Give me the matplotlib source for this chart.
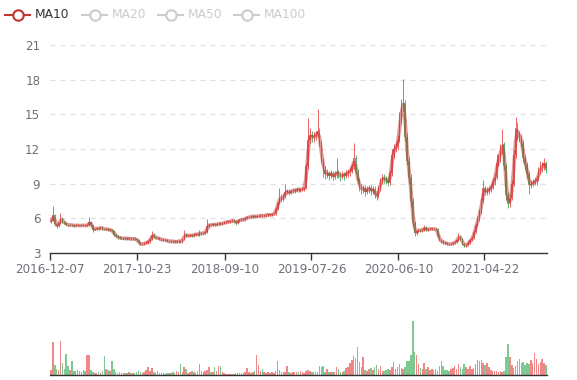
import numpy as np
import pandas as pd
import matplotlib
matplotlib.use('Agg')
import matplotlib.pyplot as plt
from matplotlib.lines import Line2D

# ---------------- data (weekly candles) ----------------
start_date = '2016-12-07'
tick_labels = ['2016-12-07', '2017-10-23', '2018-09-10', '2019-07-26', '2020-06-10', '2021-04-22']
legend_names = ['MA10', 'MA20', 'MA50', 'MA100']
y_ticks = [3, 6, 9, 12, 15, 18, 21]

opens = [
5.7, 5.8, 6.3, 5.5, 5.3, 5.6, 6.0, 5.7, 5.6, 5.45,
5.4, 5.45, 5.4, 5.35, 5.4, 5.4, 5.35, 5.4, 5.4, 5.35,
5.4, 5.7, 5.4, 5.0, 5.1, 5.15, 5.1, 5.2, 5.1, 5.05,
5.1, 5.0, 5.0, 4.9, 4.6, 4.45, 4.35, 4.3, 4.3, 4.25,
4.3, 4.25, 4.25, 4.2, 4.25, 4.2, 4.1, 3.85, 3.75, 3.8,
3.85, 3.9, 4.0, 4.2, 4.6, 4.4, 4.3, 4.3, 4.2, 4.15,
4.15, 4.1, 4.05, 4.0, 4.05, 4.0, 3.95, 4.0, 4.05, 4.0,
4.2, 4.6, 4.5, 4.5, 4.55, 4.5, 4.6, 4.65, 4.6, 4.7,
4.7, 4.75, 4.8, 5.3, 5.45, 5.4, 5.5, 5.45, 5.5, 5.55,
5.5, 5.6, 5.65, 5.7, 5.7, 5.75, 5.8, 5.75, 5.6, 5.8,
5.85, 5.9, 5.9, 6.0, 6.1, 6.1, 6.15, 6.2, 6.15, 6.2,
6.2, 6.25, 6.2, 6.25, 6.3, 6.3, 6.3, 6.35, 6.4, 6.8,
7.3, 7.9, 7.6, 7.9, 8.3, 8.3, 8.2, 8.35, 8.4, 8.4,
8.5, 8.45, 8.5, 8.55, 8.6, 10.5, 12.8, 13.2, 13.0, 13.1,
13.2, 13.6, 12.5, 11.0, 10.2, 9.8, 9.9, 9.7, 9.9, 9.6,
9.8, 10.0, 9.8, 9.6, 9.8, 9.7, 9.9, 10.0, 10.1, 10.5,
11.2, 10.0, 9.2, 8.7, 8.5, 8.6, 8.3, 8.5, 8.6, 8.4,
8.5, 8.1, 7.9, 8.6, 9.2, 9.5, 9.4, 9.3, 9.1, 9.9,
11.5, 12.0, 12.2, 12.8, 14.5, 15.7, 16.0, 13.0, 11.0, 9.5,
7.5, 5.6, 4.7, 4.9, 5.0, 4.95, 5.0, 5.2, 5.0, 5.05,
5.1, 5.1, 5.05, 5.1, 4.5, 4.1, 4.0, 3.9, 3.85, 3.8,
3.75, 3.8, 3.85, 3.95, 4.1, 4.5, 4.2, 3.8, 3.65, 3.7,
3.9, 4.1, 4.3, 4.8, 5.4, 6.0, 6.6, 7.5, 8.6, 8.3,
8.4, 8.5, 8.7, 9.2, 9.6, 10.8, 11.2, 12.0, 12.4, 10.5,
8.0, 7.2, 7.8, 9.0, 11.5, 13.8, 13.3, 13.0, 12.5, 11.2,
10.6, 9.8, 8.9, 9.0, 9.1, 9.2, 9.4, 10.0, 10.4, 10.5,
10.8]

closes = [
5.8, 6.3, 5.5, 5.3, 5.6, 6.0, 5.7, 5.6, 5.45, 5.4,
5.45, 5.4, 5.35, 5.4, 5.4, 5.35, 5.4, 5.4, 5.35, 5.4,
5.7, 5.4, 5.0, 5.1, 5.15, 5.1, 5.2, 5.1, 5.05, 5.1,
5.0, 5.0, 4.9, 4.6, 4.45, 4.35, 4.3, 4.3, 4.25, 4.3,
4.25, 4.25, 4.2, 4.25, 4.2, 4.1, 3.85, 3.75, 3.8, 3.85,
3.9, 4.0, 4.2, 4.6, 4.4, 4.3, 4.3, 4.2, 4.15, 4.15,
4.1, 4.05, 4.0, 4.05, 4.0, 3.95, 4.0, 4.05, 4.0, 4.2,
4.6, 4.5, 4.5, 4.55, 4.5, 4.6, 4.65, 4.6, 4.7, 4.7,
4.75, 4.8, 5.3, 5.45, 5.4, 5.5, 5.45, 5.5, 5.55, 5.5,
5.6, 5.65, 5.7, 5.7, 5.75, 5.8, 5.75, 5.6, 5.8, 5.85,
5.9, 5.9, 6.0, 6.1, 6.1, 6.15, 6.2, 6.15, 6.2, 6.2,
6.25, 6.2, 6.25, 6.3, 6.3, 6.3, 6.35, 6.4, 6.8, 7.3,
7.9, 7.6, 7.9, 8.3, 8.3, 8.2, 8.35, 8.4, 8.4, 8.5,
8.45, 8.5, 8.55, 8.6, 10.5, 12.8, 13.2, 13.0, 13.1, 13.2,
13.6, 12.5, 11.0, 10.2, 9.8, 9.9, 9.7, 9.9, 9.6, 9.8,
10.0, 9.8, 9.6, 9.8, 9.7, 9.9, 10.0, 10.1, 10.5, 11.2,
10.0, 9.2, 8.7, 8.5, 8.6, 8.3, 8.5, 8.6, 8.4, 8.5,
8.1, 7.9, 8.6, 9.2, 9.5, 9.4, 9.3, 9.1, 9.9, 11.5,
12.0, 12.2, 12.8, 14.5, 15.7, 16.0, 13.0, 11.0, 9.5, 7.5,
5.6, 4.7, 4.9, 5.0, 4.95, 5.0, 5.2, 5.0, 5.05, 5.1,
5.1, 5.05, 5.1, 4.5, 4.1, 4.0, 3.9, 3.85, 3.8, 3.75,
3.8, 3.85, 3.95, 4.1, 4.5, 4.2, 3.8, 3.65, 3.7, 3.9,
4.1, 4.3, 4.8, 5.4, 6.0, 6.6, 7.5, 8.6, 8.3, 8.4,
8.5, 8.7, 9.2, 9.6, 10.8, 11.2, 12.0, 12.4, 10.5, 8.0,
7.2, 7.8, 9.0, 11.5, 13.8, 13.3, 13.0, 12.5, 11.2, 10.6,
9.8, 8.9, 9.0, 9.1, 9.2, 9.4, 10.0, 10.4, 10.5, 10.8,
10.2]

highs = [
5.95, 7.1, 6.4, 5.6, 5.7, 6.5, 6.1, 5.8, 5.7, 5.55,
5.55, 5.5, 5.45, 5.5, 5.5, 5.45, 5.5, 5.55, 5.45, 5.5,
6.1, 5.8, 5.45, 5.2, 5.25, 5.25, 5.35, 5.3, 5.2, 5.2,
5.2, 5.1, 5.1, 5.0, 4.7, 4.55, 4.45, 4.4, 4.4, 4.4,
4.4, 4.35, 4.35, 4.35, 4.35, 4.3, 4.2, 3.95, 3.9, 3.95,
4.0, 4.1, 4.3, 4.9, 4.7, 4.5, 4.4, 4.4, 4.3, 4.25,
4.25, 4.2, 4.15, 4.15, 4.15, 4.1, 4.1, 4.15, 4.15, 4.3,
5.0, 4.7, 4.6, 4.65, 4.65, 4.7, 4.75, 4.75, 5.0, 4.8,
4.85, 4.9, 5.9, 5.6, 5.55, 5.6, 5.6, 5.6, 5.65, 5.65,
5.7, 5.75, 5.8, 5.8, 5.85, 5.9, 5.9, 5.85, 5.9, 5.95,
6.0, 6.0, 6.1, 6.2, 6.2, 6.25, 6.3, 6.3, 6.3, 6.3,
6.35, 6.35, 6.35, 6.4, 6.4, 6.4, 6.45, 6.5, 6.95, 7.5,
8.6, 8.1, 8.1, 9.0, 8.5, 8.5, 8.55, 8.6, 8.6, 8.7,
8.7, 8.65, 8.7, 8.75, 10.8, 14.7, 13.8, 13.6, 13.5, 13.6,
15.5, 13.8, 12.7, 11.2, 10.5, 10.3, 10.1, 10.2, 10.1, 10.1,
11.2, 10.2, 10.0, 10.1, 10.0, 10.2, 10.3, 10.4, 10.8, 12.5,
11.5, 10.3, 9.5, 9.0, 8.9, 8.9, 8.8, 8.9, 8.9, 8.8,
8.8, 8.4, 8.8, 9.5, 9.8, 9.8, 9.7, 9.6, 10.2, 12.0,
12.4, 12.6, 13.2, 15.2, 16.3, 18.1, 16.2, 13.4, 11.3, 9.8,
7.8, 5.8, 5.0, 5.1, 5.1, 5.1, 5.45, 5.3, 5.15, 5.2,
5.2, 5.2, 5.2, 5.2, 4.6, 4.2, 4.1, 4.0, 3.95, 3.9,
3.9, 3.95, 4.05, 4.25, 4.7, 4.6, 4.3, 3.9, 3.8, 4.0,
4.2, 4.45, 4.95, 5.6, 6.2, 6.8, 7.8, 9.3, 8.8, 8.7,
8.8, 9.0, 9.5, 9.9, 11.6, 11.6, 12.4, 13.7, 12.6, 10.8,
8.3, 8.1, 9.3, 11.9, 14.8, 14.3, 13.6, 13.3, 12.8, 11.5,
10.9, 10.1, 9.3, 9.4, 9.5, 9.7, 10.4, 11.0, 10.9, 11.2,
11.0]

lows = [
5.6, 5.75, 5.4, 5.2, 5.25, 5.55, 5.6, 5.5, 5.4, 5.3,
5.3, 5.35, 5.25, 5.3, 5.35, 5.3, 5.3, 5.35, 5.3, 5.3,
5.35, 5.35, 4.85, 4.95, 5.0, 5.0, 5.05, 5.0, 4.95, 5.0,
4.9, 4.9, 4.8, 4.5, 4.35, 4.25, 4.2, 4.2, 4.15, 4.15,
4.15, 4.15, 4.1, 4.1, 4.1, 4.0, 3.75, 3.65, 3.65, 3.7,
3.75, 3.8, 3.9, 4.1, 4.3, 4.2, 4.2, 4.1, 4.05, 4.05,
4.0, 3.95, 3.9, 3.9, 3.9, 3.85, 3.85, 3.9, 3.9, 3.9,
4.15, 4.4, 4.4, 4.4, 4.4, 4.4, 4.5, 4.5, 4.5, 4.6,
4.6, 4.65, 4.75, 5.2, 5.3, 5.3, 5.35, 5.35, 5.4, 5.4,
5.4, 5.5, 5.55, 5.6, 5.6, 5.65, 5.65, 5.4, 5.5, 5.7,
5.75, 5.8, 5.8, 5.9, 6.0, 6.0, 6.05, 6.05, 6.05, 6.1,
6.1, 6.1, 6.1, 6.15, 6.2, 6.2, 6.2, 6.25, 6.3, 6.7,
7.2, 7.4, 7.5, 7.8, 8.1, 8.0, 8.1, 8.2, 8.2, 8.3,
8.3, 8.3, 8.4, 8.4, 8.5, 10.3, 12.5, 12.6, 12.6, 12.8,
13.0, 12.3, 10.8, 9.6, 9.4, 9.5, 9.3, 9.5, 9.3, 9.4,
9.5, 9.5, 9.2, 9.4, 9.3, 9.5, 9.6, 9.7, 9.9, 10.3,
9.8, 9.0, 8.4, 8.1, 8.2, 7.9, 8.1, 8.2, 8.0, 8.1,
7.8, 7.6, 7.8, 8.4, 9.0, 9.1, 9.0, 8.8, 8.9, 9.7,
11.2, 11.7, 11.9, 12.6, 14.2, 15.3, 12.7, 10.6, 9.0, 7.0,
5.3, 4.5, 4.6, 4.8, 4.85, 4.85, 4.9, 4.9, 4.9, 4.95,
4.95, 4.95, 4.95, 4.4, 4.0, 3.9, 3.8, 3.75, 3.7, 3.65,
3.65, 3.7, 3.75, 3.9, 4.0, 4.1, 3.7, 3.55, 3.55, 3.6,
3.8, 4.0, 4.2, 4.7, 5.3, 5.8, 6.4, 7.3, 8.0, 8.0,
8.1, 8.3, 8.5, 8.9, 9.4, 10.5, 10.9, 11.6, 10.2, 7.6,
6.9, 7.0, 7.6, 8.8, 11.2, 12.8, 12.6, 12.2, 10.9, 10.2,
9.5, 8.1, 8.6, 8.8, 8.9, 8.9, 9.2, 9.8, 10.0, 10.2,
9.9]

volumes = [
5, 33, 10, 6, 5, 34, 12, 6, 21, 9,
5, 14, 4, 4, 5, 4, 3, 5, 4, 20,
20, 5, 3, 2, 2, 3, 2, 4, 19, 6,
5, 4, 14, 6, 3, 2, 3, 2, 2, 2,
2, 3, 2, 2, 2, 3, 4, 3, 2, 3,
5, 8, 4, 7, 3, 2, 4, 2, 2, 2,
1, 2, 2, 2, 3, 2, 4, 3, 11, 3,
8, 6, 2, 3, 4, 3, 2, 4, 11, 4,
3, 4, 5, 8, 3, 3, 8, 4, 9, 9,
3, 2, 1, 1, 1, 1, 1, 2, 2, 2,
2, 2, 3, 7, 3, 2, 3, 4, 20, 10,
4, 6, 3, 2, 3, 2, 3, 2, 4, 14,
5, 3, 3, 3, 9, 3, 2, 3, 3, 3,
3, 4, 3, 2, 4, 5, 4, 3, 3, 3,
3, 9, 8, 9, 3, 6, 3, 3, 3, 3,
8, 6, 3, 3, 4, 7, 8, 12, 15, 19,
17, 28, 13, 8, 18, 5, 4, 6, 7, 5,
8, 10, 6, 9, 4, 4, 5, 6, 5, 8,
13, 6, 8, 11, 7, 6, 8, 14, 14, 20,
54, 23, 20, 11, 7, 6, 12, 6, 8, 5,
6, 5, 6, 4, 9, 14, 9, 5, 5, 4,
6, 7, 9, 6, 11, 8, 6, 11, 8, 6,
9, 6, 7, 11, 15, 14, 15, 12, 10, 12,
8, 5, 4, 4, 4, 3, 4, 3, 4, 18,
31, 18, 10, 7, 9, 14, 16, 12, 13, 10,
12, 11, 15, 12, 22, 16, 11, 13, 16, 12,
10]

# ---------------- figure ----------------
W, H = 577, 380
fig = plt.figure(figsize=(W / 100, H / 100), dpi=100)
plt.rcParams['font.family'] = ['DejaVu Sans']

up_color = '#eb5454'
down_color = '#47b262'
ma_color = '#c23531'
label_color = '#6e7079'
axis_color = '#333333'

o = np.array(opens); c = np.array(closes); h = np.array(highs); l = np.array(lows)
v = np.array(volumes)
n = len(c)
x = np.arange(n)
dates = pd.date_range(start_date, periods=n, freq='7D')
is_up = c >= o
cols = np.where(is_up, up_color, down_color)

def fx(px):
    return px / W

def fy(py):
    return 1 - py / H

left, right = 50, 547
ax = fig.add_axes([fx(left), fy(253), fx(right - left), fy(45) - fy(253)])
axv = fig.add_axes([fx(left), fy(375), fx(right - left), fy(305) - fy(375)])

# candles
ax.vlines(x, l, h, colors=cols, linewidth=0.7, alpha=0.9, zorder=2)
body_bottom = np.minimum(o, c)
body_h = np.maximum(np.abs(c - o), 0.04)
ax.bar(x, body_h, bottom=body_bottom, width=0.75, color=cols, alpha=0.9,
       linewidth=0, zorder=2)

# MA10 (10 trading days ~ 2 weekly candles)
ma = pd.Series(c).rolling(2, min_periods=1).mean()
ax.plot(x, ma, color=ma_color, alpha=0.5, linewidth=2.6, zorder=3,
        solid_capstyle='round', solid_joinstyle='round')

ax.set_xlim(-0.5, n - 0.5)
ax.set_ylim(y_ticks[0], y_ticks[-1])
ax.set_yticks(y_ticks)
ax.set_yticklabels([str(t) for t in y_ticks])
for t in y_ticks[1:]:
    ax.axhline(t, color='#e0e0e0', linewidth=0.9, linestyle=(0, (4, 4)), zorder=1)

tick_pos = [(pd.Timestamp(s) - dates[0]).days / 7 - 0.5 for s in tick_labels]
ax.set_xticks(tick_pos)
ax.set_xticklabels(tick_labels)

for sp in ['top', 'right', 'left']:
    ax.spines[sp].set_visible(False)
ax.spines['bottom'].set_color(axis_color)
ax.spines['bottom'].set_linewidth(1.0)
ax.tick_params(axis='y', length=0, pad=7, labelsize=8.6, labelcolor=label_color)
ax.tick_params(axis='x', length=5, width=1.0, color=axis_color, pad=2,
               labelsize=8.6, labelcolor=label_color)

# volume
axv.bar(x, v, width=0.8, color=cols, alpha=0.7, linewidth=0)
axv.set_xlim(-0.5, n - 0.5)
axv.set_ylim(0, 70)
axv.set_xticks([]); axv.set_yticks([])
for sp in ['top', 'right', 'left']:
    axv.spines[sp].set_visible(False)
axv.spines['bottom'].set_color(axis_color)
axv.spines['bottom'].set_linewidth(1.0)

# legend
legend_x = [5, 82, 158, 234]
legend_colors = [ma_color, '#cccccc', '#cccccc', '#cccccc']
text_colors = ['#333333', '#cccccc', '#cccccc', '#cccccc']
ly = 15
for name, lx, lc, tc in zip(legend_names, legend_x, legend_colors, text_colors):
    fig.add_artist(Line2D([fx(lx), fx(lx + 25)], [fy(ly), fy(ly)], color=lc,
                          linewidth=1.5, transform=fig.transFigure))
    fig.add_artist(Line2D([fx(lx + 12.5)], [fy(ly)], marker='o', markersize=7.5,
                          markerfacecolor='white', markeredgecolor=lc,
                          markeredgewidth=1.5, transform=fig.transFigure))
    fig.text(fx(lx + 30), fy(ly), name, color=tc, fontsize=8.8,
             va='center', ha='left')

fig.savefig('out.png', dpi=100)
